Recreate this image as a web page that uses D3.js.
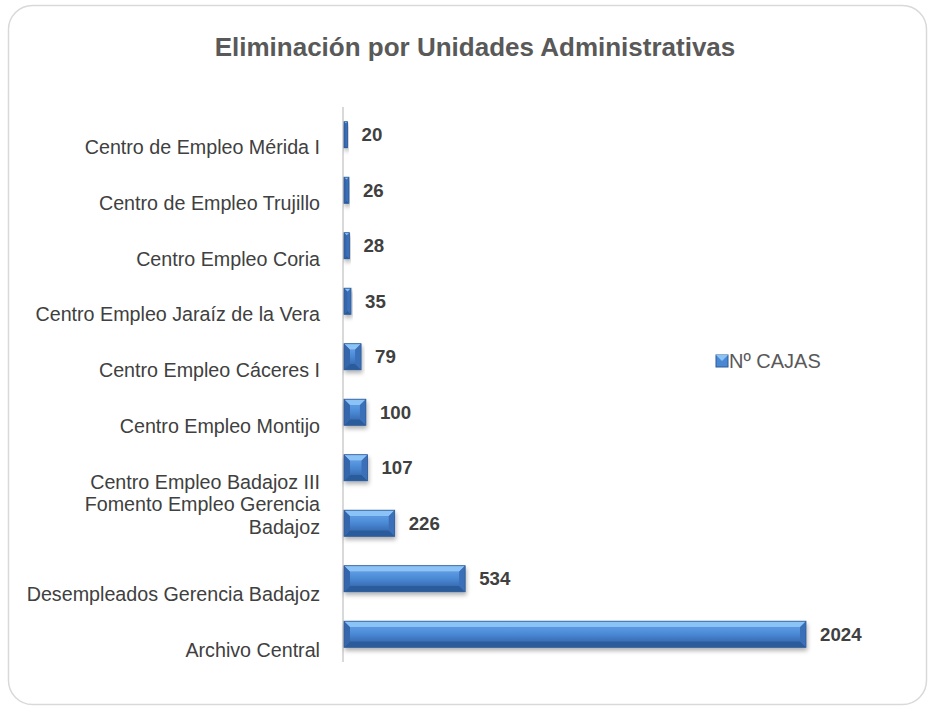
<!DOCTYPE html>
<html>
<head>
<meta charset="utf-8">
<title>Eliminación por Unidades Administrativas</title>
<script src="https://cdnjs.cloudflare.com/ajax/libs/d3/7.8.5/d3.min.js"></script>
<style>
  body { margin: 0; background: #fff; }
  text { font-family: "Liberation Sans", Arial, sans-serif; }
</style>
</head>
<body>
<svg width="930" height="708"></svg>
<script>
// data, top to bottom
var categories = [
  "Centro de Empleo Mérida I",
  "Centro de Empleo Trujillo",
  "Centro Empleo Coria",
  "Centro Empleo Jaraíz de la Vera",
  "Centro Empleo Cáceres I",
  "Centro Empleo Montijo",
  "Centro Empleo Badajoz III",
  "Fomento Empleo Gerencia Badajoz",
  "Desempleados Gerencia Badajoz",
  "Archivo Central"
];
var cajas = [20, 26, 28, 35, 79, 100, 107, 226, 534, 2024];
var seriesName = "Nº CAJAS";
var title = "Eliminación por Unidades Administrativas";

var svg = d3.select("svg");

// chart frame
svg.append("rect")
  .attr("x", 8.5).attr("y", 5.5)
  .attr("width", 918).attr("height", 699)
  .attr("rx", 24).attr("ry", 24)
  .attr("fill", "#fff")
  .attr("stroke", "#d9d9d9")
  .attr("stroke-width", 1.5);

svg.append("text")
  .attr("x", 475).attr("y", 56)
  .attr("text-anchor", "middle")
  .attr("font-size", 26)
  .attr("font-weight", "bold")
  .attr("fill", "#595959")
  .text(title);

var defs = svg.append("defs");
var grad = defs.append("linearGradient")
  .attr("id", "barGrad").attr("x1", 0).attr("y1", 0).attr("x2", 0).attr("y2", 1);
grad.append("stop").attr("offset", "0%").attr("stop-color", "#5c9be3");
grad.append("stop").attr("offset", "50%").attr("stop-color", "#4a88d4");
grad.append("stop").attr("offset", "100%").attr("stop-color", "#3a6fb6");

var shadow = defs.append("filter").attr("id", "shadow")
  .attr("x", "-10%").attr("y", "-30%").attr("width", "130%").attr("height", "180%");
shadow.append("feDropShadow")
  .attr("dx", 1).attr("dy", 3).attr("stdDeviation", 2)
  .attr("flood-color", "#000").attr("flood-opacity", 0.3);

var x0 = 343;
var x = d3.scaleLinear().domain([0, 2024]).range([x0, 806]);
var y = d3.scaleBand().domain(categories).range([107, 662]).paddingInner(0.53).paddingOuter(0.265);

// axis line
svg.append("line")
  .attr("x1", x0).attr("x2", x0)
  .attr("y1", 107).attr("y2", 662)
  .attr("stroke", "#d9d9d9").attr("stroke-width", 2);

var bars = svg.selectAll("g.bar")
  .data(categories)
  .enter().append("g")
  .attr("class", "bar")
  .attr("filter", "url(#shadow)");

bars.each(function(c, i) {
  var g = d3.select(this);
  var x1 = x0 + 1, x2 = x(cajas[i]);
  var y1 = y(c), y2 = y(c) + y.bandwidth();
  var w = x2 - x1;
  var b = Math.min(6, w / 2);
  // base
  g.append("rect").attr("x", x1).attr("y", y1).attr("width", w).attr("height", y2 - y1)
    .attr("fill", "#3d74bd");
  // top bevel
  g.append("polygon").attr("points", [[x1, y1], [x2, y1], [x2 - b, y1 + b], [x1 + b, y1 + b]].join(" "))
    .attr("fill", "#8cc3f6");
  // bottom bevel
  g.append("polygon").attr("points", [[x1, y2], [x2, y2], [x2 - b, y2 - b], [x1 + b, y2 - b]].join(" "))
    .attr("fill", "#2c5c9c");
  // left bevel
  g.append("polygon").attr("points", [[x1, y1], [x1 + b, y1 + b], [x1 + b, y2 - b], [x1, y2]].join(" "))
    .attr("fill", "#3466ac");
  // right bevel
  g.append("polygon").attr("points", [[x2, y1], [x2 - b, y1 + b], [x2 - b, y2 - b], [x2, y2]].join(" "))
    .attr("fill", "#3a70b8");
  // face
  if (w > 2 * b) {
    g.append("rect").attr("x", x1 + b).attr("y", y1 + b).attr("width", w - 2 * b).attr("height", y2 - y1 - 2 * b)
      .attr("fill", "url(#barGrad)");
  }
  g.append("rect").attr("x", x1).attr("y", y1).attr("width", w).attr("height", y2 - y1)
    .attr("fill", "none").attr("stroke", "#2d5a96").attr("stroke-width", 0.8);
});

// value labels
svg.selectAll("text.val")
  .data(categories)
  .enter().append("text")
  .attr("class", "val")
  .attr("x", function(c, i) { return x(cajas[i]) + 14; })
  .attr("y", function(c) { return y(c) + y.bandwidth() / 2; })
  .attr("dy", "0.35em")
  .attr("font-size", 18.7)
  .attr("font-weight", "bold")
  .attr("fill", "#404040")
  .text(function(c, i) { return cajas[i]; });

// category labels (single lines sit a little below the bars, as in the original)
var wrapLabels = { "Fomento Empleo Gerencia Badajoz": ["Fomento Empleo Gerencia", "Badajoz"] };
svg.selectAll("text.cat")
  .data(categories)
  .enter().append("text")
  .attr("class", "cat")
  .attr("text-anchor", "end")
  .attr("font-size", 19.7)
  .attr("fill", "#404040")
  .each(function(c, i) {
    var t = d3.select(this);
    var mid = y(c) + y.bandwidth() / 2;
    var lines = wrapLabels[c] || [c];
    var lh = 23;
    var first = lines.length > 1 ? mid - 19 : mid + 12 + i * 0.45;
    lines.forEach(function(l, k) {
      t.append("tspan")
        .attr("x", 320)
        .attr("y", first + k * lh)
        .attr("dy", "0.35em")
        .text(l);
    });
  });

// legend
var leg = svg.append("g").attr("transform", "translate(716,355)");
leg.append("rect").attr("width", 12).attr("height", 12).attr("fill", "#4a88d4").attr("stroke", "#2d5a96");
leg.append("polygon").attr("points", "0,0 12,0 6,6").attr("fill", "#8cc3f6");
leg.append("text").attr("x", 13).attr("y", 6).attr("dy", "0.35em")
  .attr("font-size", 20).attr("fill", "#595959").text(seriesName);
</script>
</body>
</html>
